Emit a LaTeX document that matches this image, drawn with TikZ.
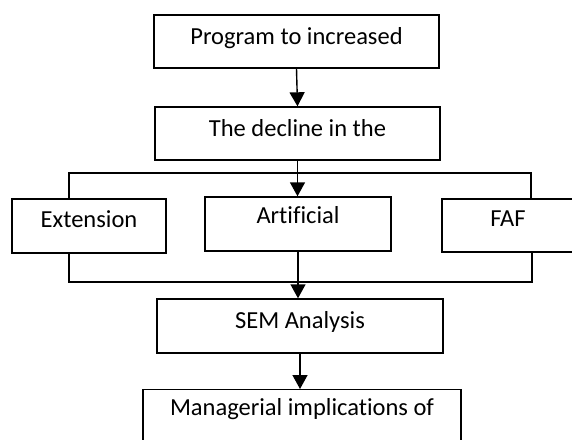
\documentclass[tikz,border=0pt]{standalone}
\usepackage{fontspec}
\setmainfont[Ligatures={NoCommon}]{Carlito}
\usetikzlibrary{arrows.meta}
\tikzset{
  box/.style={draw=black, line width=1.4pt, rectangle, inner sep=0pt, fill=white,
    text height=0.72em, text depth=0.22em,
    font=\fontsize{24.5}{29}\selectfont},
  link/.style={draw=black, line width=1.4pt},
  arr/.style={link, -{Triangle[length=14pt,width=15pt]}}
}
\begin{document}
\begin{tikzpicture}[x=1pt,y=-1pt]
\useasboundingbox (0,0) rectangle (572,439);
\begin{scope}
\clip (0,0) rectangle (572,439);
\node[box, minimum width=285pt, minimum height=53pt] (prog) at (296.5,41.5) {Program to increased};
\node[box, minimum width=285pt, minimum height=53pt] (decl) at (297.5,133.5) {The decline in the};
\node[box, minimum width=154pt, minimum height=54pt, text depth=5pt] (ext) at (89,226) {Extension};
\node[box, minimum width=186pt, minimum height=54pt, text depth=8pt] (art) at (298,224) {Artificial};
\node[box, minimum width=132pt, minimum height=53pt, text depth=5pt] (faf) at (508,225.5) {FAF};
\node[box, minimum width=286pt, minimum height=54pt] (sem) at (300,326) {SEM Analysis};
\node[box, minimum width=318pt, minimum height=90pt, anchor=north, text depth=46pt] (mgr) at (302,389) {Managerial implications of};

\coordinate (tl) at (69,173);
\coordinate (tr) at (531,173);
\coordinate (bl) at (69,282);
\coordinate (br) at (532,282);

\draw[arr] (prog.south) -- (decl.north);
\draw[link] (tl |- ext.north) -- (tl) -- (tr) -- (tr |- faf.north);
\draw[arr] (decl.south) -- (decl.south |- art.north);
\draw[link] (bl |- ext.south) -- (bl) -- (br) -- (br |- faf.south);
\draw[arr] (art.south) -- (art.south |- sem.north);
\draw[arr] (sem.south) -- (sem.south |- mgr.north);
\end{scope}
\end{tikzpicture}
\end{document}
